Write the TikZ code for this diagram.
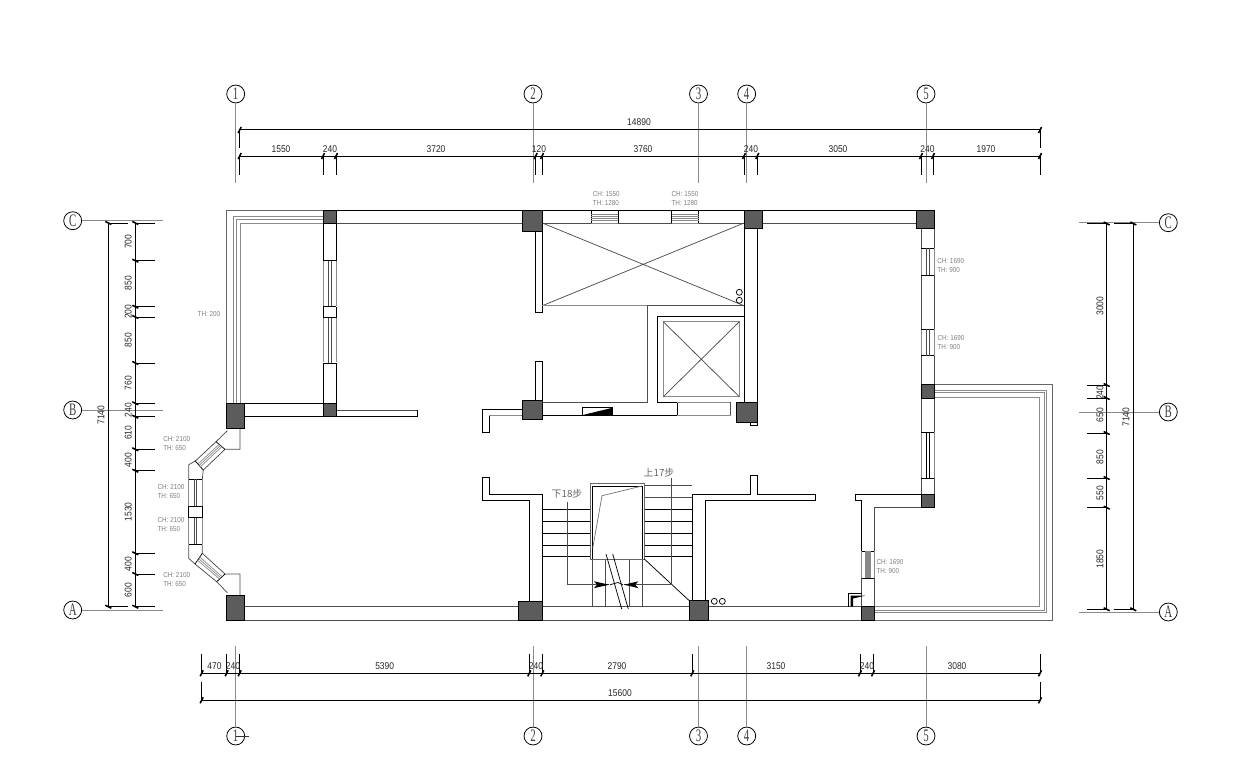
\documentclass[tikz,border=0pt]{standalone}
\usepackage{fontspec}
\usetikzlibrary{arrows,calc,positioning}
\newfontfamily\dimfont[FakeStretch=0.86]{Liberation Sans}
\newfontfamily\notefont[FakeStretch=0.88]{Liberation Sans}
\newfontfamily\axisfont[FakeStretch=0.62]{Liberation Serif}
\newfontfamily\cjkfont{Noto Sans CJK SC}
\definecolor{colgrey}{HTML}{5C5C5C}
\definecolor{wingrey}{HTML}{8A8A8A}
\tikzset{%
	wall/.style     = {line width=0.42pt, black},
	partition/.style= {line width=0.42pt, black!70},
	pane/.style     = {line width=0.4pt, wingrey},
	colbox/.style   = {draw=black, line width=0.5pt, fill=colgrey},
	dimline/.style  = {line width=0.5pt, black},
	dimext/.style   = {line width=0.5pt, black},
	dimtick/.style  = {line width=0.9pt, black},
	axisline/.style = {line width=0.5pt, wingrey},
	axisnum/.style  = {draw=black, circle, line width=0.45pt, minimum size=18*0.567pt, inner sep=0pt, font=\axisfont\fontsize{10}{10}\selectfont, text=black!75},
	dimtxt/.style   = {inner sep=0pt, font=\dimfont\fontsize{5.6}{6}\selectfont, text=black!85},
	note/.style     = {inner sep=0pt, align=left, font=\notefont\fontsize{4.1}{5}\selectfont, text=black!50},
	steptxt/.style  = {inner sep=0pt, font=\cjkfont\fontsize{5.6}{6}\selectfont, text=black!60},
}
% one px of the plan is one unit
\newcommand{\colm}[4]{\filldraw[colbox] (#1,#2) rectangle (#3,#4);}
\newcommand{\vwin}[4]{% x1,x2,y1,y2
	\draw[pane] (#1,#3) -- (#1,#4) (#2,#3) -- (#2,#4);
	\draw[wall] (#1,#3) -- (#2,#3) (#1,#4) -- (#2,#4);
	\draw[partition] ($(#1,#3)!0.4!(#2,#3)$) -- ($(#1,#4)!0.4!(#2,#4)$) ($(#1,#3)!0.6!(#2,#3)$) -- ($(#1,#4)!0.6!(#2,#4)$);}
\newcommand{\hwin}[4]{% x1,x2,y1,y2
	\draw[wall] (#1,#3) -- (#1,#4) (#2,#3) -- (#2,#4) (#1,#3) -- (#2,#3);
	\draw[pane] (#1,#4) -- (#2,#4);
	\foreach \f in {0.35,0.5,0.65,0.8} \draw[pane] ($(#1,#3)!\f!(#1,#4)$) -- ($(#2,#3)!\f!(#2,#4)$);}
\begin{document}
\begin{tikzpicture}[x=0.02cm,y=-0.02cm]
	\useasboundingbox (0,0) rectangle (1251,779);

	%% axes
	\foreach \n/\x in {1/235.7,2/533,3/698.5,4/746.7,5/926} {
		\node [axisnum] (top\n) at (\x,94) {\n};
		\node [axisnum] (bot\n) at (\x,736) {\n};
		\coordinate (topend\n) at (\x,183);
		\coordinate (botend\n) at (\x,646);
		\draw[axisline] (top\n) -- (topend\n);
		\draw[axisline] (bot\n) -- (botend\n);
	}
	\coordinate (botstub) at (249,736);
	\draw[axisline,black!80] (bot1.center) -- (botstub);
	\foreach \n/\yl/\yr in {C/220.7/222.7,B/410/412,A/610/612} {
		\node [axisnum] (left\n) at (72.7,\yl) {\n};
		\node [axisnum] (right\n) at (1168.3,\yr) {\n};
		\coordinate (leftend\n) at (162.7,\yl);
		\coordinate (rightend\n) at (1079.3,\yr);
		\draw[axisline] (left\n) -- (leftend\n);
		\draw[axisline] (right\n) -- (rightend\n);
	}

	%% top dimensions
	\draw[dimline] (239.7,129.7) -- (1040,129.7);
	\draw[dimline] (239.7,156) -- (1040,156);
	\foreach \x in {239.7,1040} {
		\draw[dimext] (\x,130) -- (\x,148);
		\draw[dimtick] (\x-1.5,133) -- (\x+1.5,127);
	}
	\foreach \x in {239.7,323,336,535.7,542,744,757.3,921,933,1040} {
		\draw[dimext] (\x,156) -- (\x,175);
		\draw[dimtick] (\x-1.5,159) -- (\x+1.5,153);
	}
	\node [dimtxt] (w14890) at (639,122.3) {14890};
	\foreach \t/\x in {1550/281,240/330,3720/436,120/539,3760/643,240/751,3050/838,240/927.5,1970/986}
		\node [dimtxt] (t\x) at (\x,149.3) {\t};

	%% bottom dimensions
	\draw[dimline] (201.7,673.3) -- (1040,673.3);
	\draw[dimline] (201.7,700.3) -- (1040,700.3);
	\foreach \x in {201.7,1040} {
		\draw[dimext] (\x,681.7) -- (\x,700.3);
		\draw[dimtick] (\x-1.5,703.3) -- (\x+1.5,697.3);
	}
	\foreach \x in {201.7,226.7,239.7,529.3,542.3,692.3,860,873,1040} {
		\draw[dimext] (\x,654.3) -- (\x,673.3);
		\draw[dimtick] (\x-1.5,676.3) -- (\x+1.5,670.3);
	}
	\node [dimtxt] (w15600) at (620,693) {15600};
	\foreach \t/\x in {470/214.5,240/233,5390/384.7,240/536,2790/617,3150/776,240/867,3080/957}
		\node [dimtxt] (b\x) at (\x,666) {\t};

	%% left dimensions
	\draw[dimline] (108.3,223) -- (108.3,606.7);
	\draw[dimline] (135.3,223) -- (135.3,606.7);
	\foreach \y in {223,606.7} {
		\draw[dimext] (108.3,\y) -- (127.7,\y);
		\draw[dimtick] (105.3,\y-1.5) -- (111.3,\y+1.5);
	}
	\foreach \y in {223,260.7,306.7,317,363,403.3,416.7,449.3,470.7,553.3,574,606.7} {
		\draw[dimext] (135.3,\y) -- (154.7,\y);
		\draw[dimtick] (132.3,\y-1.5) -- (138.3,\y+1.5);
	}
	\node [dimtxt,rotate=90] (l7140) at (101,415) {7140};
	\foreach \t/\y in {700/241.7,850/283.3,200/311.7,850/340,760/383.3,240/410,610/432.7,400/460,1530/511.7,400/564,600/590}
		\node [dimtxt,rotate=90] (l\y) at (128.3,\y) {\t};

	%% right dimensions
	\draw[dimline] (1106.7,223.5) -- (1106.7,609.3);
	\draw[dimline] (1133.3,223.5) -- (1133.3,609.3);
	\foreach \y in {223.5,609.3} {
		\draw[dimext] (1114.3,\y) -- (1133.3,\y);
		\draw[dimtick] (1130.3,\y-1.5) -- (1136.3,\y+1.5);
	}
	\foreach \y in {223.5,385,398,433,478,507.7,609.3} {
		\draw[dimext] (1087.3,\y) -- (1106.7,\y);
		\draw[dimtick] (1103.7,\y-1.5) -- (1109.7,\y+1.5);
	}
	\node [dimtxt,rotate=90] (r7140) at (1126,417) {7140};
	\foreach \t/\y in {3000/306,240/392.7,650/415,850/457,550/493,1850/559}
		\node [dimtxt,rotate=90] (r\y) at (1100,\y) {\t};

	%% balconies
	\draw[pane,black!60] (323,210) -- (226.7,210) -- (226.7,403);
	\draw[pane] (323,216.7) -- (233,216.7) -- (233,403);
	\draw[pane] (323,219.3) -- (236,219.3) -- (236,403);
	\draw[pane] (323,223.3) -- (240,223.3) -- (240,403);
	\draw[pane,black!60] (934.3,384) -- (1052.3,384) -- (1052.3,620) -- (874.3,620);
	\draw[pane] (934.3,390.7) -- (1046.7,390.7) -- (1046.7,612.7) -- (874.3,612.7);
	\draw[pane] (934.3,392.7) -- (1044,392.7) -- (1044,610.7) -- (874.3,610.7);
	\draw[pane] (934.3,397.3) -- (1039.3,397.3) -- (1039.3,606.7) -- (874.3,606.7);

	%% top wall
	\draw[wall] (323,210) -- (916,210);
	\draw[partition] (336,223) -- (522.7,223) (542.7,223) -- (744,223) (762.7,223) -- (916,223);
	\hwin{591.3}{618.3}{210}{223}
	\hwin{671.7}{698.7}{210}{223}

	%% wall at axis 1b
	\draw[wall] (323,223) -- (323,260.7) (336,223) -- (336,260.7) (323,363) -- (323,403) (336,363) -- (336,403);
	\draw[wall] (323,260.7) -- (336,260.7) (323,306.7) -- (336,306.7) (323,317.7) -- (336,317.7) (323,363) -- (336,363);
	\draw[wall] (323,306.7) -- (323,317.7) (336,306.7) -- (336,317.7);
	\draw[pane] (323,261) -- (323,306) (336,261) -- (336,306) (323,318) -- (323,362) (336,318) -- (336,362);
	\draw[partition] (328.3,261) -- (328.3,306) (331,261) -- (331,306) (328.3,318) -- (328.3,363) (331,318) -- (331,363);
	\draw[wall] (245,403.3) -- (323,403.3) (245,416.7) -- (323,416.7);
	\draw[pane,black!70] (336,410) -- (417,410);
	\draw[wall] (417,410) -- (417,416.7) -- (336,416.7);

	%% bay window
	\draw[partition] (227.3,430.7) -- (216,441.7) -- (195.7,460.7) -- (188.7,464.7) -- (188.7,479.3);
	\draw[partition] (240,428) -- (240,449.3) -- (225,449.3) -- (203.3,470) -- (202.3,479.3);
	\draw[wall] (216,441.7) -- (225,449.3) (195,460.7) -- (203.3,470);
	\foreach \f in {0.35,0.5,0.65} \draw[pane] ($(216,441.7)!\f!(225,449.3)$) -- ($(195,460.7)!\f!(203.3,470)$);
	\draw[partition] (188.7,544.3) -- (188.7,558.3) -- (195,564) -- (216.7,581.7) -- (227.3,592.7);
	\draw[partition] (202.3,544.3) -- (202.3,553.3) -- (225,574) -- (240,574) -- (240,595.7);
	\draw[wall] (202.3,553.3) -- (195,564) (225,574) -- (216.7,581.7);
	\foreach \f in {0.35,0.5,0.65} \draw[pane] ($(202.3,553.3)!\f!(195,564)$) -- ($(225,574)!\f!(216.7,581.7)$);
	\vwin{188.7}{202.3}{479.3}{506.7}
	\vwin{188.7}{202.3}{517.3}{544.3}
	\draw[wall] (188.7,506.7) rectangle (202.3,517.3);

	%% shaft and lift
	\draw[wall] (535.7,231) -- (535.7,312.3) -- (542.3,312.3) -- (542.3,231);
	\draw[partition] (542.3,223) -- (744,305.7) (744,223) -- (542.3,305.7);
	\draw[pane] (542.3,305.7) -- (647,305.7);
	\draw[partition] (647,305.7) -- (744,305.7);
	\draw[wall] (744,228) -- (744,402) (757.3,228) -- (757.3,402);
	\draw[wall] (739.3,292.3) circle (3) (739.3,300.3) circle (3);
	\draw[partition] (647,305.7) -- (647,402.3) -- (542.7,402.3);
	\draw[wall] (542.7,415) -- (677.3,415) -- (677.3,402) -- (657.7,402) -- (657.7,316.7) -- (744,316.7);
	\draw[pane,line width=0.6pt] (663.3,321.7) rectangle (739.3,396.7);
	\draw[partition] (663.3,321.7) -- (739.3,396.7) (739.3,321.7) -- (663.3,396.7);
	\draw[pane] (677.3,402) -- (730.7,402) (677.3,415) -- (730.7,415);
	\draw[partition] (730.7,402) -- (730.7,415);
	\draw[wall] (750.7,422) -- (750.7,425.7) -- (757.7,425.7) -- (757.7,422);
	\draw[wall] (535.7,400.7) -- (535.7,361.7) -- (542.3,361.7) -- (542.3,400.7);
	\draw[wall] (582.7,415) -- (582.7,407.7) -- (612.7,407.7) -- (612.7,415);
	\fill[black] (582.7,415) -- (612.7,407.7) -- (612.7,415) -- cycle;
	\draw[wall] (522.3,409.3) -- (482.7,409.3) -- (482.7,432.7) -- (489.3,432.7) -- (489.3,415.7);
	\draw[pane] (489.3,415.7) -- (522.3,415.7);

	%% bottom wall
	\draw[partition] (245,606.7) -- (861.7,606.7);
	\draw[partition] (245,620) -- (861.7,620);

	%% stairs
	\foreach \y in {509.3,521.3,533.3,545,556.7}
		\draw[wall] (542.3,\y) -- (692.3,\y);
	\draw[partition] (640,485.7) -- (692.3,485.7);
	\draw[partition] (640,497.3) -- (692.3,497.3);
	\foreach \x in {592.7,605,629.3,642}
		\draw[partition] (\x,556) -- (\x,606.7);
	\filldraw[fill=white,draw=black!60,line width=0.5pt] (590,483.3) rectangle (644.3,559);
	\draw[wall] (592.7,559) -- (592.7,486) -- (642.3,486) -- (642.3,559);
	\draw[pane,black!55] (642,486) -- (602,495.7) -- (592.7,548.3);
	\draw[wall] (606,554) -- (621.7,609) (612.7,554) -- (628.3,609);
	\draw[wall] (644.3,559) -- (689.3,600.7);
	\draw[wall] (482.7,477.3) -- (489.3,477.3) -- (489.3,494.3) -- (542.3,494.3) -- (542.3,601);
	\draw[wall] (482.7,477.3) -- (482.7,500.7) -- (529.3,500.7) -- (529.3,601);
	\draw[wall] (692.3,601) -- (692.3,494.3) -- (750.7,494.3) -- (750.7,475.3) -- (757.3,475.3) -- (757.3,494.3) -- (815.7,494.3) -- (815.7,500.7) -- (705,500.7) -- (705,601);
	\draw[wall] (714.3,601.3) circle (3) (722.3,601.3) circle (3);

	%% stair arrows
	\node [steptxt] (down) at (567,493.3) {下18步};
	\node [steptxt] (up) at (659,473) {上17步};
	\coordinate (downbend) at (567,584.7);
	\coordinate (upbend) at (671.7,584.7);
	\coordinate (downtip) at (609.3,584.7);
	\coordinate (uptip) at (624,584.7);
	\draw[partition] (567,501.7) -- (downbend) -- (downtip);
	\draw[partition] (671.7,477.7) -- (upbend) -- (uptip);
	\fill[black] (594,581.3) -- (609.3,584.7) -- (594,588.1) -- (597,584.7) -- cycle;
	\fill[black] (638.3,581.3) -- (624,584.7) -- (638.3,588.1) -- (635.3,584.7) -- cycle;
	\draw[wall] (610,584.7) -- (618,582.5) -- (623,584.7);

	%% right wall
	\draw[partition] (921,228) -- (921,248.3) (934.3,228) -- (934.3,248.3) (921,275) -- (921,329) (934.3,275) -- (934.3,329) (921,355.7) -- (921,432) (934.3,355.7) -- (934.3,432) (921,478) -- (921,494.3) (934.3,478) -- (934.3,494.3);
	\vwin{921}{934.3}{248.3}{275}
	\vwin{921}{934.3}{329}{355.7}
	\draw[pane] (921,432) -- (921,478) (934.3,432) -- (934.3,478);
	\draw[wall] (921,432) -- (934.3,432) (921,478) -- (934.3,478);
	\draw[wall] (926.5,432) -- (926.5,478) (929,432) -- (929,478);
	\draw[wall] (921,494.3) -- (855.7,494.3) -- (855.7,500.7) -- (861.7,500.7) -- (861.7,551);
	\draw[partition] (921,507.7) -- (874.3,507.7) -- (874.3,551);
	\draw[wall] (861.7,551) -- (874.3,551) (861.7,578) -- (874.3,578);
	\draw[partition] (861.7,578) -- (861.7,606.7) (874.3,578) -- (874.3,606.7);
	\draw[pane] (861.7,551) -- (861.7,578) (874.3,551) -- (874.3,578);
	\foreach \x in {865.5,866.5,867.5,868.5,869.5,870.5}
		\draw[pane] (\x,551) -- (\x,578);
	\draw[wall] (848.3,606.7) -- (848.3,593.3) -- (861.7,593.3);
	\fill[black] (850.7,606.7) -- (850.7,595.7) -- (865,595.7) -- (853,598.5) -- (853,606.7) -- cycle;

	%% columns
	\colm{323}{210}{336}{223}
	\colm{522.7}{210}{542.7}{231}
	\colm{744}{210}{762.7}{228}
	\colm{916}{210}{934.3}{228}
	\colm{323}{403.3}{336}{416.7}
	\colm{226.7}{403.3}{244.7}{428}
	\colm{226.7}{595.7}{244.7}{620}
	\colm{522.7}{400.7}{542.7}{419.3}
	\colm{736.7}{402.3}{757.7}{422.3}
	\colm{921}{384}{934.3}{398}
	\colm{921}{494.3}{934.3}{507.7}
	\colm{518.3}{601.3}{542.3}{620}
	\colm{689.3}{600.7}{708}{620}
	\colm{861.7}{606.7}{874.3}{620}

	%% window notes
	\node [note] (nt200) at (209,314) {TH: 200};
	\foreach \xx/\yy/\cc/\tt in {606.3/198.2/1550/1280,685/198.2/1550/1280,176.7/443.8/2100/650,171/491.5/2100/650,171/524.8/2100/650,176.7/579.8/2100/650,950.7/265.2/1690/900,951/342.2/1690/900,890/566.2/1690/900}
		\node [note] (n\xx) at (\xx,\yy) {CH: \cc\\TH: \tt};
\end{tikzpicture}
\end{document}
